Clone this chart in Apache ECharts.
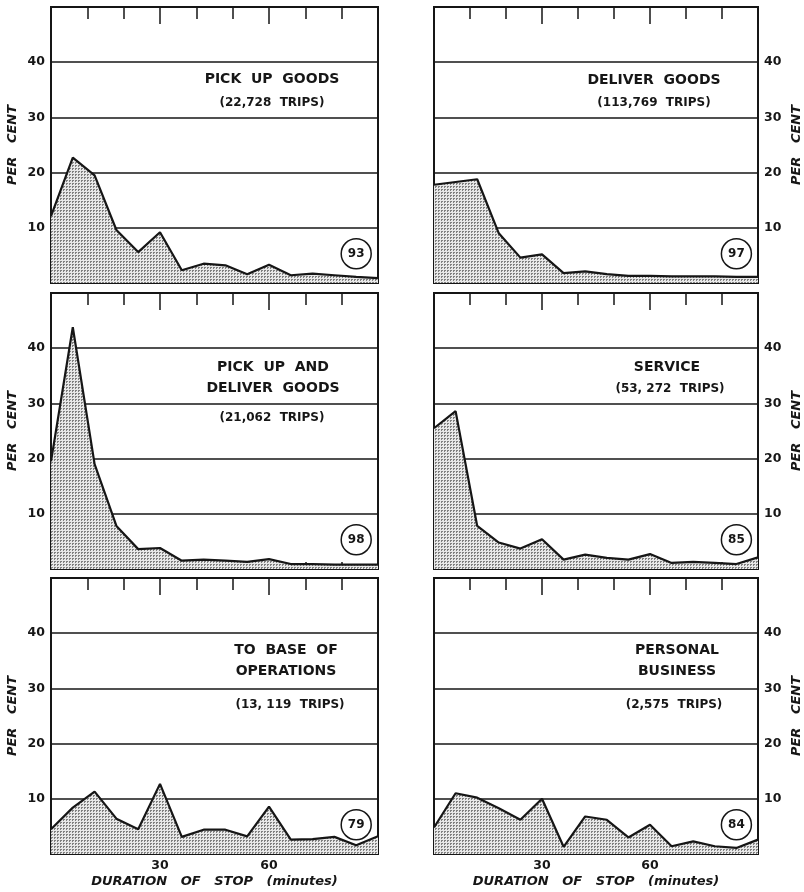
<!DOCTYPE html>
<html>
<head>
<meta charset="utf-8">
<title>Duration of stop</title>
<script src="https://cdn.jsdelivr.net/npm/echarts@6/dist/echarts.min.js"></script>
<style>
  body { margin: 0; background: #fff; }
  #chart { width: 804px; height: 892px; }
</style>
</head>
<body>
<div id="chart"></div>
<script>
// duration of stop, minutes (one point every 6 min)
var minutes = [0, 6, 12, 18, 24, 30, 36, 42, 48, 54, 60, 66, 72, 78, 84, 90];

// per cent of stops
var pickUp        = [12.1, 22.7, 19.5, 9.6, 5.6, 9.2, 2.3, 3.5, 3.2, 1.6, 3.3, 1.4, 1.7, 1.4, 1.1, 0.9];
var deliver       = [17.8, 18.3, 18.8, 9.0, 4.6, 5.2, 1.8, 2.1, 1.6, 1.3, 1.3, 1.2, 1.2, 1.2, 1.1, 1.1];
var pickUpDeliver = [19.5, 43.8, 19.0, 7.8, 3.6, 3.8, 1.5, 1.7, 1.5, 1.3, 1.8, 0.9, 0.9, 0.8, 0.8, 0.8];
var service       = [25.5, 28.6, 7.8, 4.8, 3.7, 5.4, 1.7, 2.6, 2.0, 1.7, 2.7, 1.1, 1.3, 1.1, 0.9, 2.1];
var toBase        = [4.5, 8.4, 11.3, 6.4, 4.5, 12.7, 3.1, 4.4, 4.4, 3.2, 8.6, 2.6, 2.7, 3.1, 1.6, 3.2];
var personal      = [4.8, 11.0, 10.2, 8.3, 6.2, 10.0, 1.3, 6.8, 6.2, 3.0, 5.3, 1.4, 2.3, 1.4, 1.1, 2.6];

var titles = ['PICK  UP  GOODS', 'DELIVER  GOODS', 'PICK  UP  AND\nDELIVER  GOODS',
              'SERVICE', 'TO  BASE  OF\nOPERATIONS', 'PERSONAL\nBUSINESS'];
var trips = ['(22,728  TRIPS)', '(113,769  TRIPS)', '(21,062  TRIPS)',
             '(53, 272  TRIPS)', '(13, 119  TRIPS)', '(2,575  TRIPS)'];
var circled = ['93', '97', '98', '85', '79', '84'];
var yTicks = [10, 20, 30, 40];

var allSeries = [pickUp, deliver, pickUpDeliver, service, toBase, personal];

var ink = '#161616';
var font = 'DejaVu Sans';

// stipple pattern for the shaded area
var pat = document.createElement('canvas');
pat.width = 3; pat.height = 3;
var pc = pat.getContext('2d');
pc.fillStyle = '#e8e8e8';
pc.fillRect(0, 0, 3, 3);
pc.fillStyle = '#808080';
pc.fillRect(0, 0, 2, 1);
pc.fillRect(0, 1, 1, 1);

var colLeft = [51, 434];
var rowTop = [7, 293, 578];
var plotW = 327, plotH = 276;

// heading centres (x) and offsets from the top of each panel (y)
var titleX = [272, 654, 273, 667, 286, 677];
var titleY = [72, 73, 85, 74, 83, 83];
var tripsX = [272, 654, 272, 670, 290, 674];
var tripsY = [96, 96, 125, 96, 127, 127];

var grids = [], xAxes = [], yAxes = [], series = [], graphics = [];

for (var i = 0; i < 6; i++) {
  var col = i % 2, row = Math.floor(i / 2);
  var last = row === 2;
  grids.push({
    left: colLeft[col], top: rowTop[row], width: plotW, height: plotH,
    show: true, borderColor: ink, borderWidth: 2, backgroundColor: 'transparent'
  });
  // bottom axis: small inner ticks, labels only on last row
  xAxes.push({
    gridIndex: i, type: 'value', min: 0, max: 90, interval: 30, position: 'bottom',
    axisLine: { show: false },
    axisTick: { show: true, inside: true, length: 7, lineStyle: { color: ink, width: 1.5 } },
    minorTick: { show: true, splitNumber: 3, length: 7, lineStyle: { color: ink, width: 1.5 } },
    splitLine: { show: false },
    axisLabel: { show: last, showMinLabel: false, showMaxLabel: false, margin: 5,
                 color: ink, fontFamily: font, fontSize: 12.5, fontWeight: 'bold' },
    name: last ? 'DURATION   OF   STOP   (minutes)' : '',
    nameLocation: 'middle', nameGap: 21,
    nameTextStyle: { fontFamily: font, fontStyle: 'italic', fontWeight: 'bold', fontSize: 13, color: ink }
  });
  // top axis: longer ticks hanging from the frame, long at 30 and 60
  xAxes.push({
    gridIndex: i, type: 'value', min: 0, max: 90, interval: 30, position: 'top',
    axisLine: { show: false },
    axisTick: { show: true, inside: true, length: 17, lineStyle: { color: ink, width: 1.5 } },
    minorTick: { show: true, splitNumber: 3, length: 12, lineStyle: { color: ink, width: 1.5 } },
    splitLine: { show: false },
    axisLabel: { show: false }
  });
  yAxes.push({
    gridIndex: i, type: 'value', min: 0, max: 50, interval: 10,
    position: col === 0 ? 'left' : 'right',
    axisLine: { show: false }, axisTick: { show: false },
    splitLine: { show: true, lineStyle: { color: ink, width: 1.5 } },
    axisLabel: {
      margin: 6, color: ink, fontFamily: font, fontSize: 12.5, fontWeight: 'bold',
      formatter: function (v) { return yTicks.indexOf(v) >= 0 ? String(v) : ''; }
    },
    name: 'PER   CENT', nameLocation: 'middle', nameRotate: 90, nameGap: 32,
    nameTextStyle: { fontFamily: font, fontStyle: 'italic', fontWeight: 'bold', fontSize: 13, color: ink }
  });
  series.push({
    type: 'line', xAxisIndex: i * 2, yAxisIndex: i,
    data: minutes.map(function (m, k) { return [m, allSeries[i][k]]; }),
    symbol: 'none', z: 3,
    lineStyle: { color: ink, width: 2.2 },
    areaStyle: { color: { image: pat, repeat: 'repeat' }, opacity: 1 },
    markPoint: {
      symbol: 'circle', symbolSize: 30, silent: true,
      itemStyle: { color: '#fff', borderColor: ink, borderWidth: 1.5 },
      label: { show: true, color: ink, fontFamily: font, fontSize: 12, fontWeight: 'bold' },
      data: [{ coord: [84, 5.3], value: circled[i] }]
    }
  });

  // panel headings
  graphics.push({
    type: 'text', x: titleX[i], y: rowTop[row] + titleY[i], z: 10,
    style: { text: titles[i], fill: ink, font: 'bold 14px "DejaVu Sans"',
             textAlign: 'center', textVerticalAlign: 'middle', lineHeight: 21 }
  });
  graphics.push({
    type: 'text', x: tripsX[i], y: rowTop[row] + tripsY[i], z: 10,
    style: { text: trips[i], fill: ink, font: 'bold 12px "DejaVu Sans"',
             textAlign: 'center', textVerticalAlign: 'middle' }
  });
}

var chart = echarts.init(document.getElementById('chart'), null, { renderer: 'canvas' });
chart.setOption({
  backgroundColor: '#fff',
  animation: false,
  grid: grids,
  xAxis: xAxes,
  yAxis: yAxes,
  series: series,
  graphic: graphics
});
</script>
</body>
</html>
